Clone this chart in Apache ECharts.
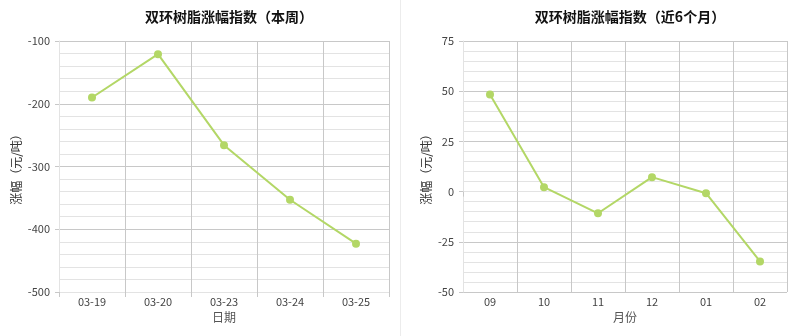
<!DOCTYPE html>
<html>
<head>
<meta charset="utf-8">
<script src="https://cdn.jsdelivr.net/npm/echarts@6/dist/echarts.min.js"></script>
<style>
html,body{margin:0;padding:0;background:#fff;}
#main{width:792px;height:336px;}
</style>
</head>
<body>
<div id="main"></div>
<script>
// Left chart: this week
var weekTitle = '双环树脂涨幅指数（本周）';
var weekCategories = ['03-19', '03-20', '03-23', '03-24', '03-25'];
var weekValues = [-190, -121, -266, -353, -423];
var weekAxisName = '日期';

// Right chart: last 6 months
var monthTitle = '双环树脂涨幅指数（近6个月）';
var monthCategories = ['09', '10', '11', '12', '01', '02'];
var monthValues = [48.3, 2.2, -10.8, 7.2, -0.8, -34.8];
var monthAxisName = '月份';

var yAxisName = '涨幅（元/吨）';

var FONT = '"Noto Sans CJK SC", "Noto Sans", sans-serif';
var LINE_COLOR = '#b3d766';

function xAxisCfg(idx, cats, name) {
  return {
    type: 'category', gridIndex: idx, data: cats, boundaryGap: true,
    name: name, nameLocation: 'middle', nameGap: 16,
    nameTextStyle: { color: '#555', fontSize: 12, fontFamily: FONT },
    axisLine: { show: true, lineStyle: { color: '#e3e3e3', width: 1 } },
    axisTick: { show: true, length: 5, lineStyle: { color: '#c8c8c8' } },
    axisLabel: { color: '#444', fontSize: 11, margin: 4, fontFamily: FONT },
    splitLine: { show: true, lineStyle: { color: '#c8c8c8', width: 1 } }
  };
}
function yAxisCfg(idx, min, max, interval, gap) {
  return {
    type: 'value', gridIndex: idx, min: min, max: max, interval: interval,
    name: yAxisName, nameLocation: 'middle', nameGap: gap,
    nameTextStyle: { color: '#333', fontSize: 12, fontFamily: FONT },
    axisLine: { show: true, lineStyle: { color: '#e3e3e3', width: 1 } },
    axisTick: { show: true, length: 4, lineStyle: { color: '#c8c8c8' } },
    axisLabel: { color: '#444', fontSize: 11, margin: 9, fontFamily: FONT },
    splitLine: { show: true, lineStyle: { color: '#c8c8c8', width: 1 } },
    minorTick: { show: false, splitNumber: 5 },
    minorSplitLine: { show: true, lineStyle: { color: '#e3e3e3', width: 1 } }
  };
}
function seriesCfg(idx, vals) {
  return {
    type: 'line', xAxisIndex: idx, yAxisIndex: idx, data: vals,
    symbol: 'circle', symbolSize: 8, showSymbol: true,
    lineStyle: { color: LINE_COLOR, width: 2 },
    itemStyle: { color: LINE_COLOR },
    emphasis: { disabled: true }, animation: false
  };
}

var chart = echarts.init(document.getElementById('main'), null, { renderer: 'canvas' });
chart.setOption({
  backgroundColor: '#fff',
  animation: false,
  title: [
    { text: weekTitle, left: 224, top: 5, textAlign: 'center',
      textStyle: { fontSize: 14, fontWeight: 'bold', color: '#111', fontFamily: FONT } },
    { text: monthTitle, left: 625, top: 5, textAlign: 'center',
      textStyle: { fontSize: 14, fontWeight: 'bold', color: '#111', fontFamily: FONT } }
  ],
  grid: [
    { left: 59, right: 403, top: 41, bottom: 44 },
    { left: 463, right: 5, top: 41, bottom: 44 }
  ],
  xAxis: [xAxisCfg(0, weekCategories, weekAxisName), xAxisCfg(1, monthCategories, monthAxisName)],
  yAxis: [yAxisCfg(0, -500, -100, 100, 37), yAxisCfg(1, -50, 75, 25, 31)],
  series: [seriesCfg(0, weekValues), seriesCfg(1, monthValues)],
  graphic: [
    { type: 'line', shape: { x1: 400.5, y1: 0, x2: 400.5, y2: 336 },
      style: { stroke: '#ececec', lineWidth: 1 }, silent: true }
  ]
});
</script>
</body>
</html>
